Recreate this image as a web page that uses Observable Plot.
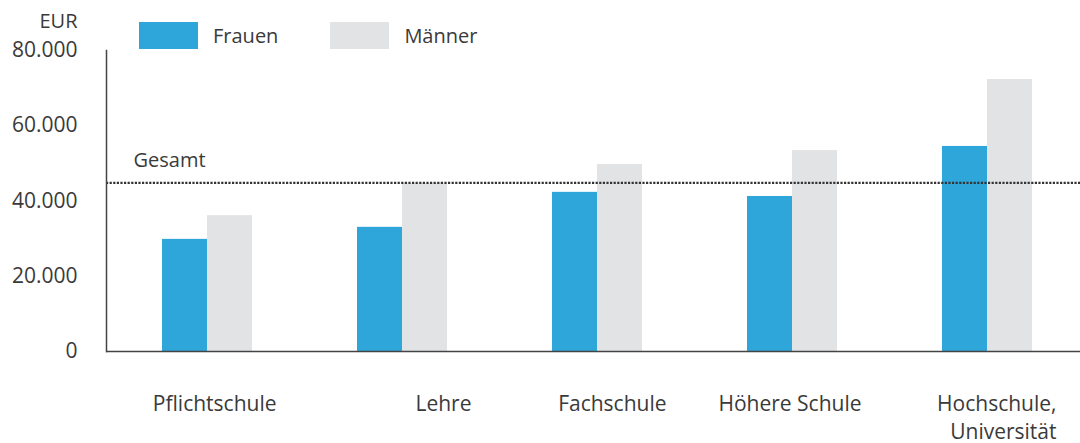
<!DOCTYPE html>
<html>
<head>
<meta charset="utf-8">
<script src="https://cdn.jsdelivr.net/npm/d3@7"></script>
<script src="https://cdn.jsdelivr.net/npm/@observablehq/plot@0.6"></script>
<style>
  html, body { margin: 0; padding: 0; background: #fff; }
  #wrap { position: relative; width: 1080px; height: 443px; font-family: "Open Sans", sans-serif; color: #3a3a3a; }
  #legend { position: absolute; top: 22px; left: 139px; display: flex; align-items: center; font-size: 20px; font-weight: 400; }
  .item { display: flex; align-items: center; margin-right: 52px; }
  .sw { width: 59px; height: 27px; margin-right: 15px; }
</style>
</head>
<body>
<div id="wrap"></div>
<script>
const categories = ["Pflichtschule", "Lehre", "Fachschule", "Höhere Schule", "Hochschule, Universität"];
const categoryLabels = ["Pflichtschule", "Lehre", "Fachschule", "Höhere Schule", "Hochschule,\nUniversität"];
const series = ["Frauen", "Männer"];
const colors = ["#2fa6da", "#e2e3e5"];
const frauen = [29800, 33000, 42300, 41200, 54500];
const maenner = [36100, 44700, 49700, 53400, 72300];
const gesamt = 44800;
const gesamtLabel = "Gesamt";
const yTicks = [0, 20000, 40000, 60000, 80000];
const unit = "EUR";

const rows = [];
categories.forEach((c, i) => {
  rows.push({category: c, sex: series[0], value: frauen[i]});
  rows.push({category: c, sex: series[1], value: maenner[i]});
});
const labelOf = new Map(categories.map((c, i) => [c, categoryLabels[i]]));
const fmt = d3.formatLocale({decimal: ",", thousands: ".", grouping: [3], currency: ["", " €"]}).format(",");
const font = {fontSize: 21, fill: "#3a3a3a"};

const chart = Plot.plot({
  width: 1080,
  height: 443,
  marginLeft: 106,
  marginRight: 0,
  marginTop: 50,
  marginBottom: 92,
  style: {fontFamily: "Open Sans, sans-serif", fontWeight: 400, background: "transparent"},
  x: {domain: categories, range: [110, 1084], paddingInner: 0.54, paddingOuter: 0.26, axis: null, label: null},
  y: {domain: [0, 80000], axis: null, label: null},
  marks: [
    Plot.barY(rows.filter(d => d.sex === series[0]), {x: "category", y: "value", fill: colors[0], insetRight: 45}),
    Plot.barY(rows.filter(d => d.sex === series[1]), {x: "category", y: "value", fill: colors[1], insetLeft: 45}),
    Plot.ruleY([gesamt], {stroke: "#333", strokeWidth: 2.2, strokeDasharray: "2.2,1.4"}),
    Plot.text([gesamtLabel], {y: [gesamt], text: d => d, frameAnchor: "left", textAnchor: "start", dx: 27, dy: -22, fontSize: 20, fill: "#3a3a3a"}),
    Plot.ruleY([0], {stroke: "#444", strokeWidth: 1.5}),
    Plot.frame({anchor: "left", stroke: "#444", strokeWidth: 1.5}),
    Plot.axisY(yTicks, {tickSize: 0, tickPadding: 29, tickFormat: fmt, label: null, ...font}),
    Plot.text([unit], {frameAnchor: "top-left", textAnchor: "end", dx: -29, dy: -37, text: d => d, fontSize: 20, fill: "#3a3a3a"}),
    Plot.axisX({tickSize: 0, tickPadding: 40, textAnchor: "end", dx: 69, lineHeight: 1.32, label: null, tickFormat: d => labelOf.get(d), ...font})
  ]
});

const wrap = document.getElementById("wrap");
wrap.appendChild(chart);
const legend = document.createElement("div");
legend.id = "legend";
series.forEach((s, i) => {
  const item = document.createElement("div");
  item.className = "item";
  const sw = document.createElement("div");
  sw.className = "sw";
  sw.style.background = colors[i];
  const t = document.createElement("span");
  t.textContent = s;
  item.appendChild(sw);
  item.appendChild(t);
  legend.appendChild(item);
});
wrap.appendChild(legend);
</script>
</body>
</html>
